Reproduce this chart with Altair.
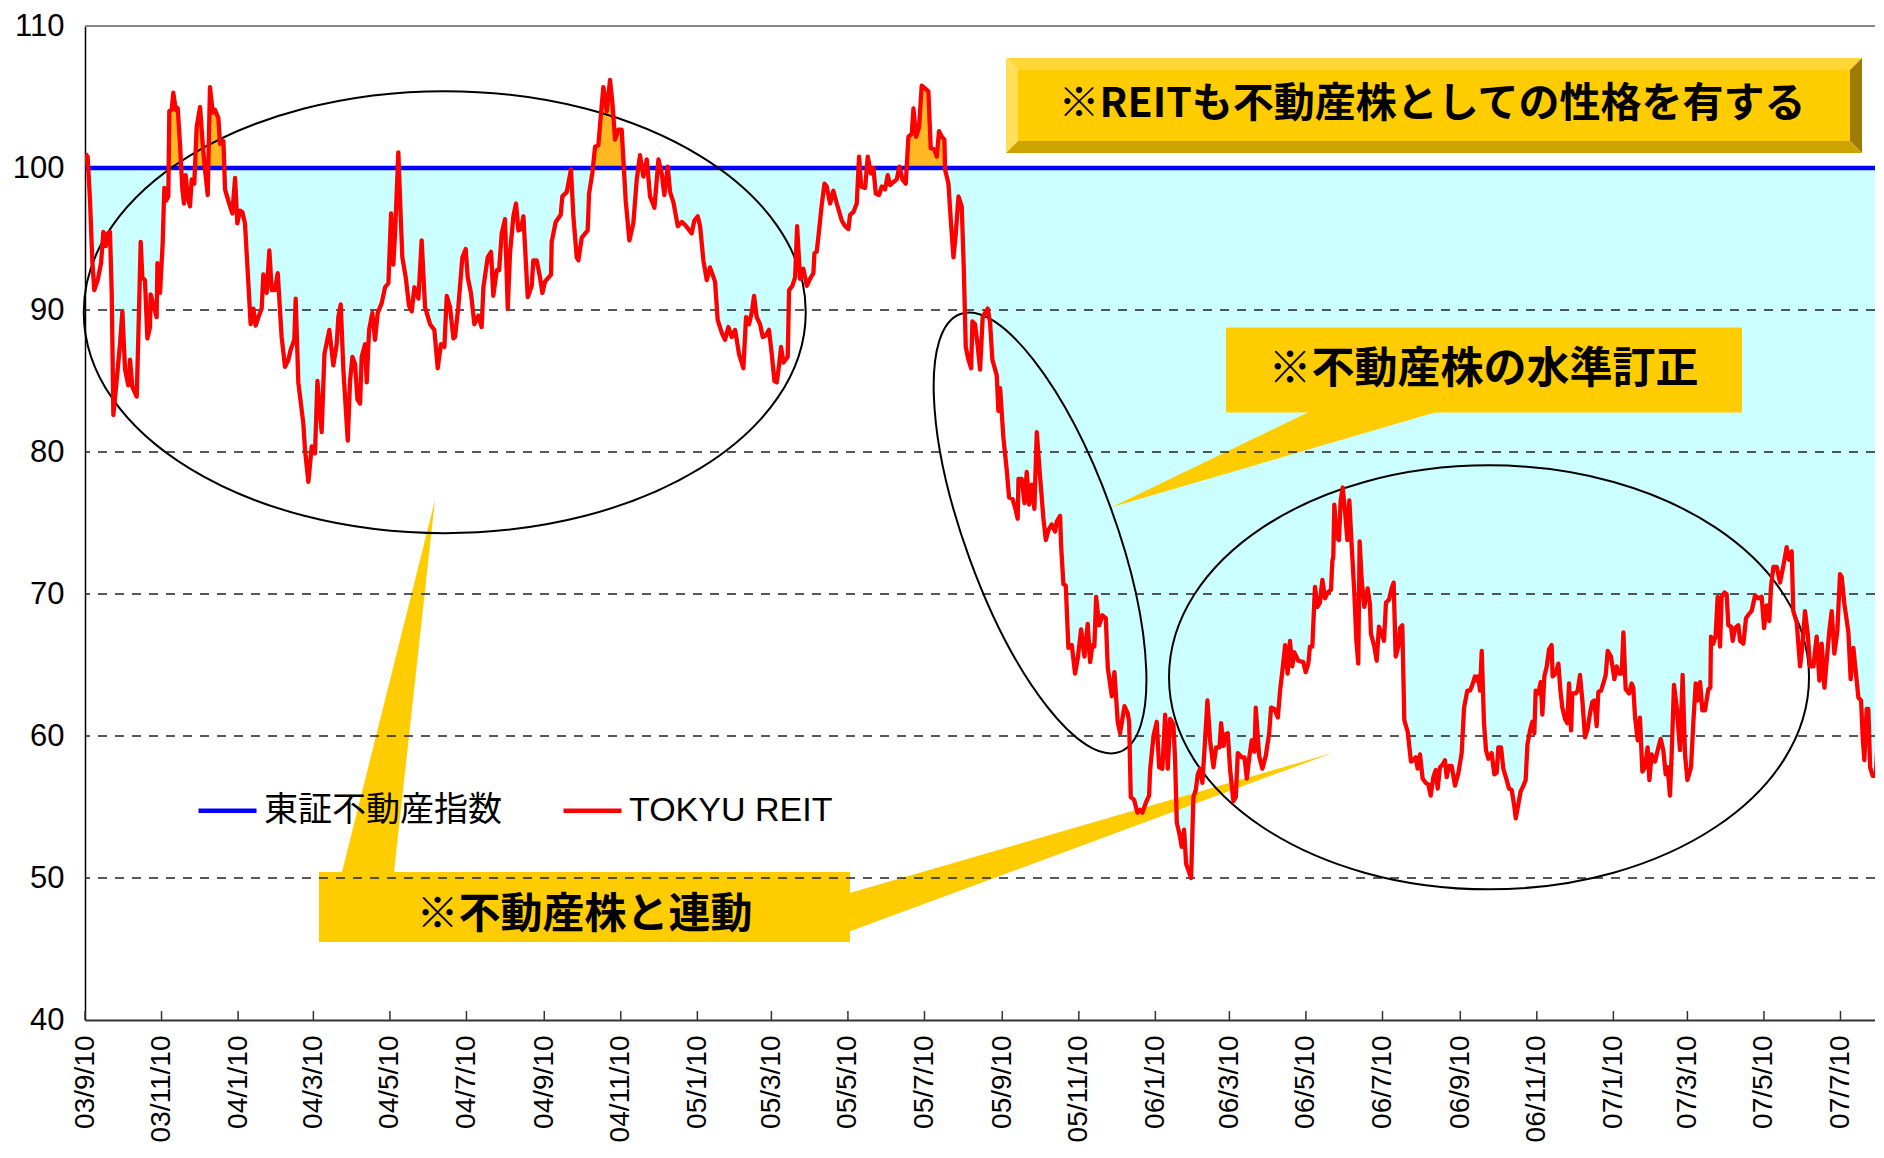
import altair as alt
import pandas as pd
from datetime import datetime, timedelta

# ---------------- data ----------------
series_names = ["東証不動産指数", "TOKYU REIT"]
series_colors = ["#0000FF", "#FF0000"]

tick_dates = ["2003-09-10", "2003-11-10", "2004-01-10", "2004-03-10", "2004-05-10",
              "2004-07-10", "2004-09-10", "2004-11-10", "2005-01-10", "2005-03-10",
              "2005-05-10", "2005-07-10", "2005-09-10", "2005-11-10", "2006-01-10",
              "2006-03-10", "2006-05-10", "2006-07-10", "2006-09-10", "2006-11-10",
              "2007-01-10", "2007-03-10", "2007-05-10", "2007-07-10"]
y_ticks = [40, 50, 60, 70, 80, 90, 100, 110]
grid_values = [50, 60, 70, 80, 90]

# day offsets are counted from 2003-09-10
index_day = [0.0, 1426.5]
index_value = [100.0, 100.0]

reit_day_a = [0.5, 2.1, 4.0, 5.8, 7.4, 10.1, 12.8, 14.6, 16.5, 18.1,
              19.9, 21.3, 22.6, 25.2, 27.9, 29.8, 31.9, 34.5, 35.9, 37.7,
              41.2, 42.5, 44.4, 45.7, 47.8, 49.7, 51.8, 52.3, 55.0, 57.1,
              57.7, 59.8, 61.9, 63.2, 64.6, 66.4, 67.2, 69.1, 70.4, 72.3,
              73.9, 75.7, 77.6, 78.9, 80.2, 81.8, 83.7, 85.0, 87.1, 89.0,
              91.7, 93.8, 95.6, 97.8, 99.6, 101.8, 103.6, 106.3, 107.6, 110.3,
              111.6, 114.2, 117.4, 119.6, 121.4, 123.5, 125.4, 127.5, 129.6, 132.0,
              134.2, 136.0, 138.2, 140.8, 142.1, 144.8, 146.9, 148.8, 151.4, 153.6,
              156.7, 159.4, 162.1, 163.9, 166.8, 167.9, 170.0, 174.0, 175.3, 178.0,
              180.7, 183.3, 185.2, 188.6, 190.8, 194.7, 197.9, 200.6, 201.9, 203.8,
              205.9, 209.4, 211.2, 213.1, 215.2, 217.1, 219.2, 220.5, 223.2, 224.5,
              226.4, 229.0, 231.1, 233.3, 236.5, 239.1]
reit_value_a = [101.0, 100.8, 97.7, 93.5, 91.4, 92.1, 93.3, 95.5, 94.5, 95.4,
                95.5, 91.2, 82.6, 85.0, 87.6, 89.9, 85.8, 84.7, 86.5, 84.6,
                83.9, 88.1, 94.8, 92.3, 92.1, 88.0, 88.8, 91.1, 90.2, 89.5,
                93.3, 91.2, 94.7, 98.6, 97.7, 98.0, 104.0, 104.1, 105.3, 104.1,
                104.2, 101.7, 98.5, 97.5, 99.5, 98.0, 97.3, 99.2, 98.9, 102.9,
                104.3, 101.7, 99.9, 98.1, 105.7, 103.9, 104.1, 103.5, 101.7, 101.9,
                98.5, 97.7, 96.8, 99.3, 96.1, 97.0, 96.9, 96.1, 92.8, 89.0,
                90.1, 88.9, 89.5, 90.1, 92.5, 91.2, 94.2, 91.4, 91.4, 92.6,
                88.1, 86.0, 86.5, 87.2, 87.9, 90.8, 84.9, 82.0, 80.2, 77.9,
                80.4, 79.9, 85.0, 81.4, 86.9, 88.6, 86.1, 87.6, 89.5, 90.4,
                85.8, 80.8, 85.0, 86.7, 86.2, 83.7, 83.4, 86.7, 87.6, 84.9,
                88.6, 89.8, 87.9, 89.8, 90.5, 91.6]

reit_day_b = [241.8, 243.9, 245.7, 247.1, 249.7, 251.9, 252.9, 255.6, 258.2, 260.4,
              262.5, 265.7, 268.3, 271.0, 275.0, 278.4, 281.1, 283.7, 286.4, 288.3,
              290.9, 293.6, 294.9, 297.5, 300.7, 303.4, 305.0, 307.6, 310.3, 313.5,
              316.1, 317.5, 320.9, 323.6, 325.4, 328.1, 330.0, 332.1, 334.7, 336.9,
              338.7, 341.4, 343.5, 345.4, 347.5, 349.4, 352.8, 356.0, 357.3, 360.0,
              362.6, 364.5, 366.6, 371.4, 371.9, 375.1, 379.1, 380.4, 383.9, 387.3,
              389.2, 391.9, 393.2, 395.9, 400.6, 401.7, 404.4, 406.5, 409.1, 411.3,
              413.1, 415.8, 418.4, 420.3, 422.4, 425.1, 427.7, 430.9, 433.8, 437.0,
              439.7, 442.3, 445.0, 447.7, 450.3, 453.8, 457.0, 459.6, 461.7, 464.4,
              466.3, 468.9, 472.4, 475.6, 478.2]
reit_value_b = [91.9, 96.8, 93.2, 95.4, 101.1, 95.9, 93.7, 92.3, 90.3, 89.9,
                91.6, 90.8, 94.9, 90.2, 89.0, 88.6, 85.9, 87.6, 87.4, 91.0,
                90.2, 88.0, 88.1, 90.2, 93.7, 94.3, 92.3, 91.2, 89.0, 89.6,
                88.8, 91.6, 93.7, 94.1, 91.0, 92.8, 92.8, 95.4, 96.4, 90.1,
                94.0, 96.6, 97.5, 95.6, 95.7, 96.6, 90.9, 91.7, 93.5, 93.5,
                92.3, 91.2, 92.0, 92.5, 94.8, 96.2, 96.7, 98.0, 98.3, 99.9,
                96.6, 93.7, 93.5, 95.1, 95.6, 98.2, 99.7, 101.5, 101.6, 103.9,
                105.7, 104.0, 106.2, 104.6, 102.0, 102.7, 102.7, 97.7, 94.9, 96.1,
                99.2, 100.9, 99.4, 100.6, 98.0, 97.2, 100.6, 99.6, 98.1, 100.1,
                98.3, 97.6, 95.9, 96.2, 96.0]

reit_day_c = [480.9, 483.5, 485.6, 488.3, 490.2, 492.8, 495.5, 498.1, 502.1, 504.2,
              507.4, 510.1, 512.7, 515.4, 518.1, 521.2, 524.7, 526.8, 529.2, 531.3,
              533.2, 535.3, 538.0, 540.1, 542.5, 545.1, 547.3, 549.4, 551.3, 553.1,
              554.7, 556.6, 560.0, 561.1, 563.7, 565.9, 567.5, 569.9, 572.5, 575.2,
              577.8, 580.5, 581.3, 583.1, 584.5, 587.1, 589.3, 591.1, 593.8, 596.4,
              599.1, 603.1, 605.7, 608.4, 609.7, 612.4, 615.0, 616.9, 618.5, 621.7,
              623.8, 626.4, 628.3, 630.2, 632.8, 635.0, 637.6, 639.7, 641.6, 644.2,
              646.9, 649.0, 651.4, 654.1, 656.2, 658.9, 660.2, 662.3, 664.7, 666.8,
              669.5, 672.1, 674.0, 676.9, 678.8, 680.6, 682.8, 684.9, 685.4, 688.1,
              690.0, 692.1, 693.9, 696.1, 698.7, 700.3, 701.9, 704.0, 706.2, 707.2,
              709.3, 711.5, 713.3, 715.4, 717.3]
reit_value_c = [95.7, 95.4, 96.3, 96.6, 95.9, 93.5, 92.1, 93.0, 92.0, 89.3,
                88.4, 87.9, 88.8, 88.1, 88.6, 86.9, 85.9, 89.5, 89.0, 89.8,
                91.0, 89.5, 89.0, 88.1, 88.2, 88.6, 86.9, 85.0, 84.9, 86.1,
                87.4, 86.3, 86.7, 91.4, 91.7, 92.3, 95.9, 92.2, 92.9, 91.7,
                92.2, 92.6, 94.0, 94.1, 95.2, 97.4, 98.9, 98.7, 97.5, 98.4,
                97.5, 96.3, 95.9, 95.7, 96.7, 96.9, 97.5, 100.8, 98.7, 98.6,
                100.8, 99.6, 100.0, 98.2, 98.1, 98.7, 98.5, 99.5, 98.8, 99.0,
                99.2, 100.1, 99.2, 98.9, 102.2, 102.4, 104.2, 102.2, 102.9, 105.8,
                105.6, 105.4, 101.4, 101.3, 100.8, 102.6, 102.2, 102.0, 99.9, 98.9,
                96.3, 93.7, 95.3, 98.0, 97.3, 93.0, 87.4, 86.5, 85.9, 89.2,
                89.0, 87.4, 85.8, 89.5, 89.8]

reit_day_d = [719.4, 721.3, 723.1, 726.6, 727.9, 729.3, 731.9, 734.6, 736.4, 739.1,
              741.2, 743.3, 743.9, 746.5, 748.7, 750.5, 752.4, 754.5, 756.6, 758.5,
              761.1, 763.8, 765.7, 767.8, 770.4, 773.1, 774.4, 777.1, 777.9, 779.7,
              781.6, 783.7, 786.4, 789.0, 791.2, 793.8, 796.5, 799.1, 801.0, 802.8,
              804.4, 805.8, 808.2, 810.8, 813.5, 815.1, 818.3, 820.4, 823.0, 824.9,
              828.4, 831.0, 832.1, 833.4, 836.1, 838.7, 840.8, 842.7, 845.4, 848.0,
              848.8, 851.5, 854.1, 856.0, 858.6, 860.8, 862.9, 864.8, 867.4, 868.7,
              870.1, 872.2, 874.0, 875.9, 877.5, 879.9, 881.5, 883.3, 885.2, 886.8,
              888.7, 890.5, 892.6, 894.5, 896.6, 899.3, 901.4, 904.1, 905.4, 907.3,
              908.6, 910.7, 912.6, 915.2, 917.1, 918.7, 921.9, 924.0, 925.9, 927.7,
              929.8, 932.0, 933.0, 935.7, 938.3, 941.0, 943.7, 945.2, 947.9, 950.6,
              952.4, 954.5, 956.4]
reit_value_d = [90.1, 89.1, 86.5, 85.4, 82.9, 84.5, 81.0, 78.7, 76.8, 76.7,
                76.1, 75.3, 78.1, 78.1, 76.4, 78.6, 76.3, 77.7, 76.0, 81.4,
                78.3, 75.3, 73.8, 74.5, 74.9, 74.4, 75.1, 75.5, 73.4, 70.7,
                70.6, 66.2, 66.4, 64.4, 65.5, 67.5, 65.6, 67.9, 65.2, 66.4,
                66.3, 69.8, 67.8, 68.5, 68.3, 64.8, 62.8, 64.5, 61.0, 60.2,
                62.1, 61.6, 61.0, 55.7, 55.5, 54.6, 54.8, 54.6, 55.3, 55.8,
                57.6, 60.0, 61.0, 57.8, 57.7, 61.5, 57.7, 61.2, 60.8, 58.4,
                53.9, 53.1, 52.2, 53.4, 51.0, 50.4, 50.0, 55.7, 56.2, 57.3,
                57.7, 56.7, 59.7, 62.5, 59.7, 57.8, 59.2, 59.2, 60.9, 59.3,
                60.1, 60.2, 57.6, 55.4, 55.7, 58.8, 58.5, 58.5, 57.0, 58.4,
                59.7, 58.9, 62.0, 58.6, 57.7, 58.6, 60.2, 62.0, 61.9, 61.3,
                63.2, 64.8, 66.4]

reit_day_e = [958.4, 960.3, 962.1, 963.7, 966.9, 970.9, 972.8, 974.9, 976.2, 978.1,
              980.2, 982.3, 984.2, 986.1, 988.2, 990.3, 993.0, 994.0, 994.8, 995.6,
              997.5, 999.3, 1000.7, 1002.3, 1004.1, 1006.0, 1007.6, 1009.4, 1011.6, 1013.2,
              1014.7, 1015.8, 1017.4, 1019.5, 1022.2, 1024.0, 1024.8, 1027.5, 1029.4, 1031.2,
              1033.4, 1035.2, 1036.8, 1039.2, 1041.3, 1042.9, 1044.5, 1046.6, 1048.0, 1049.8,
              1051.4, 1054.1, 1056.7, 1058.6, 1060.4, 1062.0, 1063.9, 1066.0, 1068.4, 1070.5,
              1072.4, 1074.5, 1076.4, 1078.0, 1079.8, 1082.0, 1083.8, 1085.2, 1087.0, 1089.1,
              1091.8, 1094.5, 1097.1, 1099.0, 1101.6, 1103.8, 1105.6, 1107.7, 1109.1, 1110.4,
              1111.7, 1113.1, 1114.9, 1116.5, 1118.4, 1121.0, 1123.1, 1125.0, 1126.3, 1128.5,
              1130.3, 1133.0, 1134.8, 1137.0, 1139.1, 1140.2, 1142.3, 1144.1, 1146.3, 1148.1,
              1149.5, 1151.6, 1153.4, 1155.0, 1156.1, 1158.2, 1160.1, 1161.4, 1163.0, 1164.9,
              1166.7, 1168.8, 1169.6, 1172.0, 1174.2, 1175.8, 1177.3, 1179.5, 1181.3, 1182.7,
              1184.3, 1185.3, 1188.0, 1189.6, 1191.4, 1193.3, 1195.4]
reit_value_e = [64.4, 66.7, 64.9, 65.9, 65.3, 65.2, 64.5, 65.1, 66.3, 66.3,
                70.5, 69.1, 69.4, 71.0, 69.7, 70.1, 70.3, 72.3, 72.6, 76.3,
                74.0, 73.8, 76.6, 77.5, 75.9, 73.8, 76.6, 73.5, 70.0, 66.7,
                65.1, 73.7, 71.0, 69.1, 70.4, 69.3, 67.2, 66.3, 65.3, 67.7,
                67.2, 66.7, 69.4, 69.6, 70.4, 70.8, 65.6, 66.3, 67.6, 67.8,
                61.1, 60.3, 58.2, 58.3, 58.5, 57.7, 58.7, 57.0, 56.7, 56.6,
                55.8, 57.1, 57.6, 56.3, 57.8, 58.0, 58.3, 57.1, 57.9, 57.9,
                56.5, 57.4, 58.8, 62.0, 63.2, 63.2, 63.6, 64.2, 63.9, 64.2,
                63.2, 66.0, 60.9, 59.0, 58.4, 58.8, 57.3, 57.4, 59.2, 59.2,
                57.7, 56.9, 56.3, 56.2, 55.0, 54.2, 55.2, 56.1, 56.5, 56.9,
                59.4, 60.4, 61.0, 60.2, 63.2, 63.0, 63.8, 61.5, 64.2, 64.9,
                66.1, 66.4, 64.2, 64.4, 65.1, 63.2, 62.0, 61.2, 60.9, 63.7,
                60.4, 63.0, 63.0, 63.2, 64.3, 62.5, 59.9]

reit_day_f = [1197.5, 1199.4, 1201.2, 1202.8, 1204.7, 1206.0, 1208.2, 1210.0, 1211.9, 1213.5,
              1216.1, 1218.8, 1220.6, 1222.5, 1224.6, 1226.0, 1227.8, 1230.5, 1232.6, 1233.9,
              1235.3, 1237.4, 1239.2, 1241.1, 1243.2, 1245.3, 1246.7, 1248.5, 1251.2, 1253.9,
              1255.7, 1257.8, 1259.7, 1261.3, 1263.1, 1264.5, 1266.3, 1268.5, 1271.1, 1273.2,
              1275.1, 1277.0, 1279.9, 1281.7, 1283.6, 1285.2, 1287.1, 1288.9, 1291.0, 1293.7,
              1295.3, 1295.8, 1297.7, 1299.5, 1301.1, 1303.0, 1304.3, 1306.5, 1308.3, 1309.6,
              1311.8, 1313.1, 1315.0, 1317.6, 1319.0, 1321.6, 1323.7, 1326.1, 1328.2, 1330.9,
              1333.6, 1336.2, 1338.1, 1340.2, 1342.3, 1343.6, 1345.5, 1348.2, 1350.8, 1353.5,
              1356.1, 1358.0, 1360.1, 1361.4, 1364.1, 1366.8, 1368.6, 1370.7, 1372.9, 1374.7,
              1377.4, 1380.0, 1382.2, 1384.0, 1386.2, 1388.0, 1390.1, 1392.0, 1394.1, 1396.5,
              1398.6, 1400.0, 1402.1, 1405.3, 1407.1, 1409.3, 1411.1, 1413.3, 1415.4, 1416.7,
              1418.0, 1419.9, 1421.2, 1422.6, 1424.7, 1427.1, 1429.2, 1431.3, 1433.7]
reit_value_f = [60.5, 61.6, 62.4, 62.5, 60.7, 63.1, 63.2, 63.7, 64.3, 66.0,
                65.6, 64.0, 64.9, 64.4, 64.4, 67.3, 63.3, 63.0, 63.7, 63.4,
                61.3, 59.7, 61.3, 57.5, 57.8, 59.2, 56.9, 58.7, 58.2, 59.2,
                59.8, 59.0, 57.3, 57.8, 55.8, 58.8, 63.6, 62.0, 59.0, 64.3,
                58.7, 56.9, 57.8, 60.9, 63.7, 62.5, 63.8, 61.8, 61.8, 63.3,
                63.4, 67.0, 66.5, 67.1, 69.8, 66.3, 69.8, 70.1, 70.0, 67.8,
                67.7, 66.7, 67.6, 67.8, 66.7, 66.5, 68.3, 68.6, 68.8, 69.9,
                69.7, 69.8, 67.6, 69.2, 68.1, 70.5, 71.9, 71.9, 70.8, 72.0,
                73.3, 72.4, 73.0, 68.8, 68.0, 64.9, 66.3, 68.8, 67.2, 64.9,
                64.9, 67.0, 63.9, 66.5, 63.4, 65.3, 67.4, 68.8, 65.8, 67.4,
                71.4, 71.2, 69.3, 67.3, 64.0, 66.2, 64.6, 62.7, 62.5, 59.9,
                58.3, 61.9, 61.9, 57.8, 57.2, 57.2, 60.6, 61.1, 60.9]

# annotation texts
note_top = "※REITも不動産株としての性格を有する"
note_mid = "※不動産株の水準訂正"
note_low = "※不動産株と連動"

# ---------------- build tables ----------------
START = datetime(2003, 9, 10)


def to_iso(d):
    return (START + timedelta(days=d)).strftime("%Y-%m-%dT%H:%M:%SZ")


reit_rows = []
for days, vals in [(reit_day_a, reit_value_a), (reit_day_b, reit_value_b),
                   (reit_day_c, reit_value_c), (reit_day_d, reit_value_d),
                   (reit_day_e, reit_value_e), (reit_day_f, reit_value_f)]:
    for d, v in zip(days, vals):
        reit_rows.append({"date": to_iso(d), "value": v, "series": series_names[1]})
reit_df = pd.DataFrame(reit_rows)
index_df = pd.DataFrame([{"date": to_iso(d), "value": v, "series": series_names[0]}
                         for d, v in zip(index_day, index_value)])
grid_df = pd.DataFrame({"g": grid_values})
top_df = pd.DataFrame({"g": [110]})
tick_df = pd.DataFrame({"date": [t + "T00:00:00Z" for t in tick_dates]})
one = pd.DataFrame({"k": [0]})

# ---------------- layout / style ----------------
W, H = 1790, 994
FONT = "Liberation Sans, Arial, Noto Sans CJK JP"
JFONT = "Noto Sans CJK JP"


def dt(s, hours=0):
    y, m, d = (int(p) for p in s.split("-"))
    return alt.DateTime(year=y, month=m, date=d, hours=hours, utc=True)


xscale = alt.Scale(type="utc", domain=[dt("2003-09-10"), dt("2007-08-06", 12)])
yscale = alt.Scale(domain=[40, 110], nice=False, zero=False)

x_axis = alt.Axis(values=[dt(t) for t in tick_dates],
                  labelExpr="utcFormat(datum.value, '%y/%-m/%-d')",
                  labelAngle=270, labelFont=FONT, labelFontSize=28, labelColor="black",
                  labelPadding=15, ticks=False, grid=False, domainColor="#333333",
                  domainWidth=2, title=None, labelOverlap=False, labelFlush=False)
y_axis = alt.Axis(values=y_ticks, labelFont=FONT, labelFontSize=31, labelColor="black",
                  labelPadding=21, ticks=False, grid=False, domainColor="black",
                  domainWidth=1.5, title=None, labelOverlap=False, labelFlush=False)

legend = alt.Legend(title=None, orient="none", legendX=111, legendY=753,
                    direction="horizontal", symbolType="stroke", symbolSize=3364,
                    symbolStrokeWidth=4.5, labelFont=FONT, labelFontSize=34,
                    labelColor="black", labelOffset=5, labelLimit=600,
                    columnPadding=52, padding=0)
color = alt.Color("series:N", scale=alt.Scale(domain=series_names, range=series_colors),
                  legend=legend)


def X():
    return alt.X("date:T", scale=xscale, axis=x_axis)


def Y(field):
    return alt.Y(field, scale=yscale, axis=y_axis)


def poly(points):
    return "M" + " L".join(f"{x},{y}" for x, y in points) + " Z"


def box(x0, y0, x1, y1):
    return poly([(x0, y0), (x1, y0), (x1, y1), (x0, y1)])


def ellipse(rx, ry):
    k = 0.5523
    return (f"M{-rx},0 C{-rx},{-k * ry} {-k * rx},{-ry} 0,{-ry} "
            f"C{k * rx},{-ry} {rx},{-k * ry} {rx},0 "
            f"C{rx},{k * ry} {k * rx},{ry} 0,{ry} "
            f"C{-k * rx},{ry} {-rx},{k * ry} {-rx},0 Z")


YEL = "#FFCC00"
# callout shapes in plot pixel coordinates (drawn in this order)
ax0, ay0, ax1, ay1, bv = 921, 32, 1777, 127, 12
shape_rows = [
    (poly([(257, 846), (309, 846), (350, 474)]), YEL),
    (poly([(763, 867.6), (763, 906), (1248, 726.8)]), YEL),
    (box(234, 846, 765, 916), YEL),
    (poly([(1226, 385), (1355, 385), (1027, 481)]), YEL),
    (box(1141, 301.5, 1657, 386.5), YEL),
    (poly([(ax0, ay0), (ax1, ay0), (ax1 - bv, ay0 + bv), (ax0 + bv, ay0 + bv)]), "#FFD633"),
    (poly([(ax0, ay0), (ax0 + bv, ay0 + bv), (ax0 + bv, ay1 - bv), (ax0, ay1)]), "#FFDE5A"),
    (poly([(ax1, ay0), (ax1, ay1), (ax1 - bv, ay1 - bv), (ax1 - bv, ay0 + bv)]), "#9C7B00"),
    (poly([(ax0, ay1), (ax1, ay1), (ax1 - bv, ay1 - bv), (ax0 + bv, ay1 - bv)]), "#CCA300"),
    (box(ax0 + bv, ay0 + bv, ax1 - bv, ay1 - bv), YEL),
]
shape_df = pd.DataFrame({"path": [p for p, _ in shape_rows],
                         "fillc": [c for _, c in shape_rows],
                         "ord": list(range(len(shape_rows)))})

# ellipses: centre through the data scales, radii in pixels
ellipse_specs = [
    (286.7, 89.85, 361, 221, 0),
    (761.1, 74.3, 233, 75, 70),
    (1118.9, 64.13, 320, 212, 0),
]

# ---------------- layers ----------------
area_low = alt.Chart(reit_df).transform_calculate(
    lo="min(datum.value, 100)", base="100"
).mark_area(color="#CCFFFF", clip=True, opacity=1).encode(
    x=X(), y=Y("lo:Q"), y2=alt.Y2("base:Q"))

area_high = alt.Chart(reit_df).transform_calculate(
    hi="max(datum.value, 100)", base="100"
).mark_area(color="#FFB822", clip=True, opacity=1).encode(
    x=X(), y=Y("hi:Q"), y2=alt.Y2("base:Q"))

shapes = alt.Chart(shape_df).mark_point(filled=True, size=4, opacity=1, strokeWidth=0).encode(
    x=alt.value(0), y=alt.value(0),
    shape=alt.Shape("path:N", scale=None, legend=None),
    fill=alt.Fill("fillc:N", scale=None, legend=None),
    order=alt.Order("ord:Q"))

grid = alt.Chart(grid_df).mark_rule(color="#222222", strokeWidth=1.3, strokeDash=[9, 8]).encode(
    y=Y("g:Q"))
top_line = alt.Chart(top_df).mark_rule(color="#888888", strokeWidth=2).encode(
    y=Y("g:Q"))
ticks = alt.Chart(tick_df).mark_rule(color="#333333", strokeWidth=1.5).encode(
    x=X(), y=alt.value(H), y2=alt.value(H - 9))

blue = alt.Chart(index_df).mark_line(strokeWidth=4.5, clip=True).encode(
    x=X(), y=Y("value:Q"), color=color)

ell_layers = []
for cd, cv, rx, ry, ang in ellipse_specs:
    edf = pd.DataFrame({"date": [to_iso(cd)], "value": [cv]})
    ell_layers.append(
        alt.Chart(edf).mark_point(shape=ellipse(rx, ry), size=4, filled=False,
                                  color="black", strokeWidth=2, opacity=1, angle=ang).encode(
            x=X(), y=Y("value:Q")))

red = alt.Chart(reit_df).mark_line(strokeWidth=4.3, strokeJoin="round", clip=True).encode(
    x=X(), y=Y("value:Q"), color=color)


def note(text, x, y, size):
    return alt.Chart(one).mark_text(text=text, font=JFONT, fontWeight="bold", fontSize=size,
                                    color="black", align="center", baseline="middle").encode(
        x=alt.value(x), y=alt.value(y))


texts = [note(note_top, 1347, 79, 41), note(note_mid, 1398.5, 344, 43),
         note(note_low, 499.5, 889, 42)]

chart = alt.layer(area_low, area_high, shapes, grid, top_line, ticks, blue,
                  *ell_layers, red, *texts).properties(
    width=W, height=H,
    autosize=alt.AutoSizeParams(type="none"),
    padding={"left": 77, "top": 18, "right": 0, "bottom": 124},
    background="white",
).configure_view(stroke=None)

chart.save("out.html", embed_options={"renderer": "svg", "actions": False})
